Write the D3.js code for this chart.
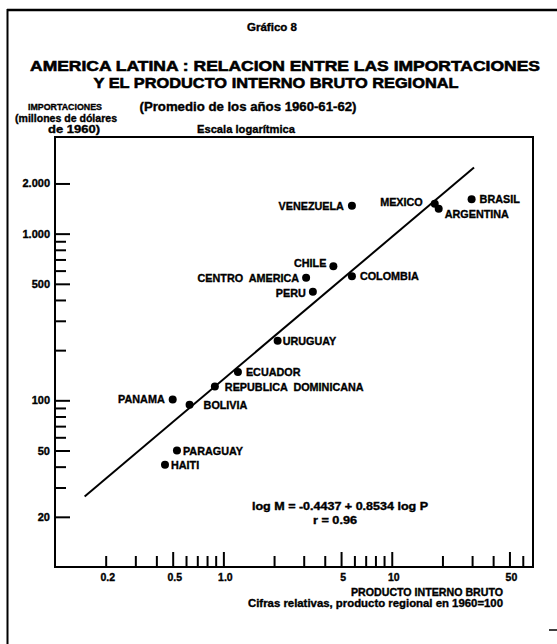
<!DOCTYPE html>
<html>
<head>
<meta charset="utf-8">
<script src="https://cdn.jsdelivr.net/npm/d3@7"></script>
<style>
  html, body { margin: 0; padding: 0; background: #fff; }
  svg { display: block; font-family: "Liberation Sans", Arial, sans-serif; font-weight: bold; }
  svg text { stroke: #000; stroke-width: 0.35px; }
</style>
</head>
<body>
<svg id="chart" width="557" height="644"></svg>
<script>
// Países y promedios 1960-61-62
const paises = ["VENEZUELA", "MEXICO", "ARGENTINA", "BRASIL", "CHILE", "CENTRO  AMERICA",
  "PERU", "COLOMBIA", "URUGUAY", "ECUADOR", "REPUBLICA  DOMINICANA", "PANAMA",
  "BOLIVIA", "PARAGUAY", "HAITI"];
// Producto interno bruto, cifras relativas (producto regional 1960 = 100)
const producto = [5.8, 18.0, 19.0, 29.8, 4.5, 3.1, 3.4, 5.8, 2.1, 1.22, 0.89, 0.50, 0.63, 0.53, 0.45];
// Importaciones, millones de dólares de 1960
const importaciones = [1470, 1510, 1410, 1610, 637, 543, 448, 555, 228, 148, 121, 101, 94, 50, 41];

// Ticks
const yTicksLabeled = [20, 50, 100, 500, 1000, 2000];
const yTickLabels = ["20", "50", "100", "500", "1.000", "2.000"];
const yTicksMinor = [30, 40, 60, 70, 80, 90, 200, 300, 400, 600, 700, 800, 900];
const xTicksLabeled = [0.5, 1, 5, 10, 50];
const xTickLabels = ["0.2", "0.5", "1.0", "5", "10", "50"];
const xTicksShort = [0.2, 0.3, 0.4, 0.6, 0.7, 0.8, 0.9, 2, 3, 4, 6, 7, 8, 9, 20, 30, 40, 60];

// Regresión: log M = -0.4437 + 0.8534 log P
const fitIntercept = -0.4437;
const fitSlope = 0.8534;
// the fit was computed in other units (hundreds of millions, absolute product); shift to axis units
const unitShift = 2.57;
const fitRange = [0.15, 30.8];

// label placement next to each dot
const labelPos = [
  {dx: -8, dy: 4, a: "end"},     // Venezuela
  {dx: -12, dy: 2, a: "end"},    // Mexico
  {dx: 6, dy: 9, a: "start"},    // Argentina
  {dx: 8, dy: 4, a: "start"},    // Brasil
  {dx: -7, dy: 1, a: "end"},     // Chile
  {dx: -7, dy: 4.5, a: "end"},   // Centro America
  {dx: -7, dy: 5.5, a: "end"},   // Peru
  {dx: 8, dy: 3.5, a: "start"},  // Colombia
  {dx: 5, dy: 4, a: "start"},    // Uruguay
  {dx: 8, dy: 4, a: "start"},    // Ecuador
  {dx: 10, dy: 4.5, a: "start"}, // Republica Dominicana
  {dx: -8, dy: 3, a: "end"},     // Panama
  {dx: 14, dy: 4.5, a: "start"}, // Bolivia
  {dx: 6, dy: 4.5, a: "start"},  // Paraguay
  {dx: 6, dy: 4, a: "start"}     // Haiti
];

const svg = d3.select("#chart");
const L = 55, R = 533, T = 137, B = 567;

const x = d3.scaleLog().domain([0.1, 69]).range([L, R]);
const y = d3.scaleLog().domain([10, 3800]).range([B, T]);

// outer frame
svg.append("line").attr("x1", 7.5).attr("x2", 7.5).attr("y1", 9).attr("y2", 644)
  .attr("stroke", "#000").attr("stroke-width", 2);
svg.append("line").attr("x1", 7).attr("x2", 557).attr("y1", 10).attr("y2", 10)
  .attr("stroke", "#000").attr("stroke-width", 2.5);
svg.append("line").attr("x1", 549).attr("x2", 557).attr("y1", 630).attr("y2", 630)
  .attr("stroke", "#000").attr("stroke-width", 1.5);

// headings
const txt = (s, xx, yy, size, anchor, len) => {
  const t = svg.append("text").attr("x", xx).attr("y", yy)
    .attr("font-size", size).attr("text-anchor", anchor || "middle").attr("fill", "#000").text(s);
  if (len) t.attr("textLength", len).attr("lengthAdjust", "spacingAndGlyphs");
  return t;
};
txt("Gráfico  8", 272, 31, 10, "middle", 50);
txt("AMERICA LATINA :  RELACION  ENTRE  LAS  IMPORTACIONES", 285, 71, 15.5, "middle", 510)
  .style("stroke-width", "0.6px");
txt("Y  EL  PRODUCTO  INTERNO  BRUTO  REGIONAL", 276, 88, 15.5, "middle", 365)
  .style("stroke-width", "0.6px");
txt("(Promedio de los años 1960-61-62)", 248, 111, 12, "middle", 217);
txt("Escala logarítmica", 246, 133, 11.5, "middle", 98);
txt("IMPORTACIONES", 65, 110, 9.5, "middle", 74);
txt("(millones de dólares", 66, 122, 10.5, "middle", 102);
txt("de 1960)", 74, 133, 10.5, "middle", 52);

// plot box
svg.append("rect").attr("x", L).attr("y", T).attr("width", R - L).attr("height", B - T)
  .attr("fill", "none").attr("stroke", "#000").attr("stroke-width", 2);

// y axis (ticks inward)
const yMajor = svg.append("g").attr("transform", `translate(${L},0)`)
  .call(d3.axisLeft(y).tickValues(yTicksLabeled).tickSize(-15).tickPadding(5)
    .tickFormat((d, i) => yTickLabels[i]));
const yMinor = svg.append("g").attr("transform", `translate(${L},0)`)
  .call(d3.axisLeft(y).tickValues(yTicksMinor).tickSize(-11).tickFormat(""));

// x axis (ticks inward)
const xMajor = svg.append("g").attr("transform", `translate(0,${B})`)
  .call(d3.axisBottom(x).tickValues(xTicksLabeled).tickSize(-15).tickPadding(6).tickFormat(""));
const xMinor = svg.append("g").attr("transform", `translate(0,${B})`)
  .call(d3.axisBottom(x).tickValues(xTicksShort).tickSize(-11).tickFormat(""));

[yMajor, yMinor, xMajor, xMinor].forEach(g => {
  g.select(".domain").remove();
  g.selectAll(".tick line").attr("stroke", "#000").attr("stroke-width", 2);
  g.selectAll("text").attr("font-family", "Liberation Sans, Arial, sans-serif")
    .attr("font-weight", "bold").attr("font-size", 11).attr("fill", "#000");
});

// x tick labels (0.2 is a short tick but labelled)
const xLabelVals = [0.2].concat(xTicksLabeled);
svg.append("g").selectAll("text").data(xLabelVals).join("text")
  .attr("x", d => x(d) + 2).attr("y", 581)
  .attr("text-anchor", "middle").attr("font-size", 10.5).attr("fill", "#000")
  .text((d, i) => xTickLabels[i]);

// x axis titles
txt("PRODUCTO   INTERNO   BRUTO", 503, 596, 10, "end", 152);
txt("Cifras  relativas, producto  regional  en 1960=100", 503, 607, 10.5, "end", 255);

// regression line
const fitLog = p => fitIntercept + unitShift + fitSlope * Math.log10(p);
svg.append("line")
  .attr("x1", x(fitRange[0])).attr("y1", y(Math.pow(10, fitLog(fitRange[0]))))
  .attr("x2", x(fitRange[1])).attr("y2", y(Math.pow(10, fitLog(fitRange[1]))))
  .attr("stroke", "#000").attr("stroke-width", 2);

// points
const pts = paises.map((n, i) => ({n, p: producto[i], m: importaciones[i], lp: labelPos[i]}));
svg.append("g").selectAll("circle").data(pts).join("circle")
  .attr("cx", d => x(d.p)).attr("cy", d => y(d.m)).attr("r", 4).attr("fill", "#000");
svg.append("g").selectAll("text").data(pts).join("text")
  .attr("x", d => x(d.p) + d.lp.dx).attr("y", d => y(d.m) + d.lp.dy)
  .attr("text-anchor", d => d.lp.a).attr("font-size", 10.8).attr("fill", "#000")
  .attr("xml:space", "preserve").style("white-space", "pre")
  .text(d => d.n);

// equation
txt("log M  =  -0.4437  +  0.8534   log P", 340, 510, 10, "middle", 176);
txt("r  =  0.96", 335, 524, 10, "middle", 44);
</script>
</body>
</html>
